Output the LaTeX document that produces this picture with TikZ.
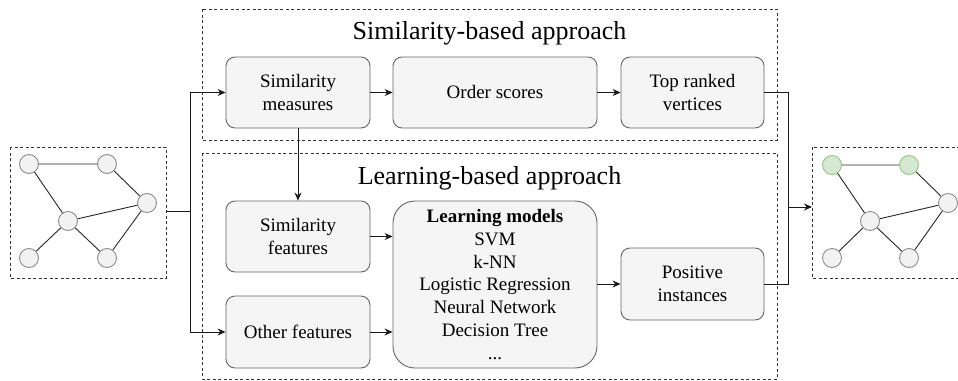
\documentclass[tikz,border=0pt]{standalone}
\usepackage{fontspec}
\setmainfont{Liberation Serif}
\usetikzlibrary{arrows.meta,positioning}

\definecolor{boxfill}{HTML}{F5F5F5}
\definecolor{boxline}{HTML}{666666}
\definecolor{vfill}{HTML}{F2F2F2}
\definecolor{vline}{HTML}{8C8C8C}
\definecolor{gfill}{HTML}{D5E8D4}
\definecolor{gline}{HTML}{97C47F}

\tikzset{
  stepbox/.style={draw=boxline, fill=boxfill, rounded corners=9pt, line width=0.9pt,
    align=center, font=\fontsize{19}{22.7}\selectfont, inner sep=0pt},
  region/.style={draw=black!80, dashed, dash pattern=on 3pt off 2.5pt, line width=0.8pt},
  vert/.style={circle, draw=vline, fill=vfill, line width=0.9pt, minimum size=19pt, inner sep=0pt},
  hit/.style={vert, draw=gline, fill=gfill},
  link/.style={line width=0.9pt, black!85},
  flow/.style={line width=0.9pt, black!90, -{Stealth[length=8pt,width=7pt]}},
  flat/.style={line width=0.9pt, black!90},
  title/.style={font=\fontsize{26}{30}\selectfont, inner sep=0pt}
}

\begin{document}
\begin{tikzpicture}[x=1pt,y=-1pt]
\useasboundingbox (0,0) rectangle (958,380);
\clip (0,0) rectangle (958,380);

% approach regions
\draw[region] (202,9) rectangle (777,140);
\draw[region] (202,153) rectangle (777,379);
\node[title] (simtitle) at (489.5,33) {Similarity-based approach};
\node[title] (learntitle) at (489.5,178) {Learning-based approach};

% input graph
\draw[region] (10,147) rectangle (166,278);
\node[vert] (a1) at (29,164) {};
\node[vert] (a2) at (107,164) {};
\node[vert] (a3) at (147,203) {};
\node[vert] (a4) at (68,221) {};
\node[vert] (a5) at (29,258) {};
\node[vert] (a6) at (107,258) {};
\draw[link] (a1) -- (a2) (a1) -- (a4) (a2) -- (a3) (a4) -- (a3)
            (a4) -- (a5) (a4) -- (a6) (a6) -- (a3);

% output graph with predicted vertices
\draw[region] (812,147) rectangle (975,278);
\node[hit]  (b1) at (832,165) {};
\node[hit]  (b2) at (909,165) {};
\node[vert] (b3) at (948,203) {};
\node[vert] (b4) at (870,221) {};
\node[vert] (b5) at (832,258) {};
\node[vert] (b6) at (909,258) {};
\draw[link] (b1) -- (b2) (b1) -- (b4) (b2) -- (b3) (b4) -- (b3)
            (b4) -- (b5) (b4) -- (b6) (b6) -- (b3);

% process steps
\node[stepbox, minimum width=144pt, minimum height=71pt] (sm) at (298,92.5) {Similarity\\measures};
\node[stepbox, minimum width=204pt, minimum height=71pt] (os) at (495,92.5) {Order scores};
\node[stepbox, minimum width=143pt, minimum height=71pt] (tr) at (692.5,92.5) {Top ranked\\vertices};
\node[stepbox, minimum width=144pt, minimum height=71pt] (sf) at (298,236.5) {Similarity\\features};
\node[stepbox, minimum width=144pt, minimum height=72pt] (of) at (298,332) {Other features};
\node[stepbox, rounded corners=22pt, minimum width=204pt, minimum height=167pt] (lm) at (495,284.5)
  {\textbf{Learning models}\\SVM\\k-NN\\Logistic Regression\\Neural Network\\Decision Tree\\...};
\node[stepbox, minimum width=143pt, minimum height=72pt] (pi) at (692.5,284) {Positive\\instances};

% connectors
\coordinate (split) at (190,211);
\coordinate (merge) at (788,207);
\draw[flat] (166,211) -- (split);
\draw[flow] (split |- sm) |- (sm.west);
\draw[flow] (split) |- (of.west);
\draw[flat] (split) -- (split |- sm);
\draw[flow] (sm) -- (os);
\draw[flow] (os) -- (tr);
\draw[flow] (sm) -- (sf);
\draw[flow] (sf.east) -- (lm.west |- sf.east);
\draw[flow] (of.east) -- (lm.west |- of.east);
\draw[flow] (lm.east |- pi) -- (pi.west);
\draw[flat] (tr.east) -| (merge |- pi.east) -- (pi.east);
\draw[flow] (merge) -- (812,207);
\end{tikzpicture}
\end{document}
